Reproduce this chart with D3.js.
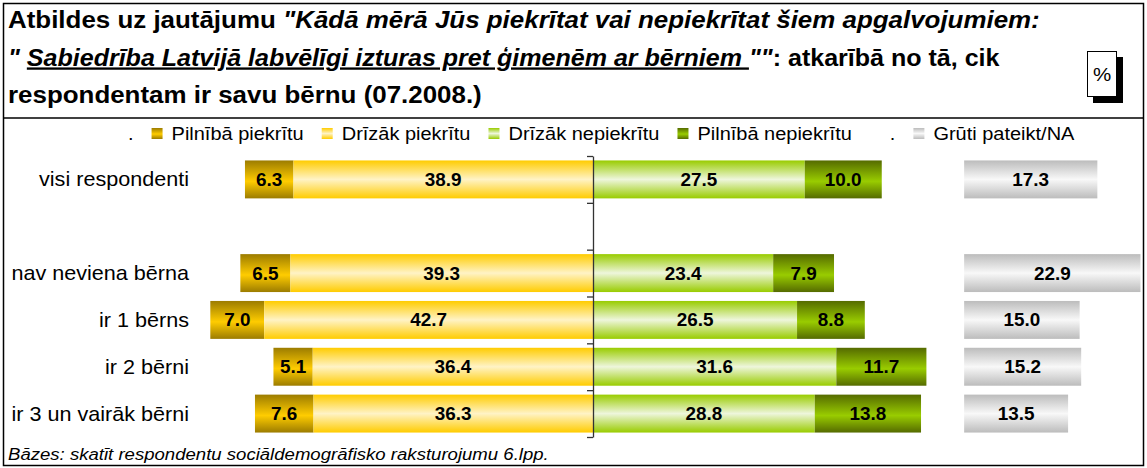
<!DOCTYPE html>
<html>
<head>
<meta charset="utf-8">
<script src="https://cdn.jsdelivr.net/npm/d3@7"></script>
<style>
body { margin: 0; background: #fff; }
svg { display: block; font-family: Arial, "Liberation Sans", sans-serif; }
text { white-space: pre; }
</style>
</head>
<body>
<div id="chart"></div>
<script>
// data
const categories = ["visi respondenti", "nav neviena bērna", "ir 1 bērns", "ir 2 bērni", "ir 3 un vairāk bērni"];
const fullyAgree = [6.3, 6.5, 7.0, 5.1, 7.6];
const ratherAgree = [38.9, 39.3, 42.7, 36.4, 36.3];
const ratherDisagree = [27.5, 23.4, 26.5, 31.6, 28.8];
const fullyDisagree = [10.0, 7.9, 8.8, 11.7, 13.8];
const hardToSay = [17.3, 22.9, 15.0, 15.2, 13.5];
const legendLabels = [".", "Pilnībā piekrītu", "Drīzāk piekrītu", "Drīzāk nepiekrītu", "Pilnībā nepiekrītu", ".", "Grūti pateikt/NA"];

const W = 1147, H = 468, SX = 1.08;
const grayStart = 48.2;

const svg = d3.select("#chart").append("svg")
    .attr("width", W)
    .attr("height", H);

// gradients
const defs = svg.append("defs");
const gradients = {
  fa: [[0, "#9c7c00"], [0.55, "#ffcc00"], [1, "#9c7c00"]],
  ra: [[0, "#ffcc00"], [0.5, "#fff3c6"], [1, "#ffcc00"]],
  rd: [[0, "#99cc00"], [0.5, "#eef6dc"], [1, "#99cc00"]],
  fd: [[0, "#556b00"], [0.55, "#99cc00"], [1, "#556b00"]],
  na: [[0, "#bcbcbc"], [0.5, "#f8f8f8"], [1, "#bcbcbc"]]
};
Object.entries(gradients).forEach(([id, stops]) => {
  const g = defs.append("linearGradient").attr("id", "g-" + id)
      .attr("x1", 0).attr("y1", 0).attr("x2", 0).attr("y2", 1);
  stops.forEach(s => g.append("stop").attr("offset", s[0]).attr("stop-color", s[1]));
});

function txt(parent, x, y, s) {
  return parent.append("text")
      .attr("transform", "translate(" + x + "," + y + ") scale(" + SX + ",1)")
      .text(s);
}

// frame
svg.append("rect")
    .attr("x", 3.5).attr("y", 3.5)
    .attr("width", 1140).attr("height", 462)
    .attr("fill", "none").attr("stroke", "#000").attr("stroke-width", 1.5);
svg.append("line")
    .attr("x1", 3.5).attr("x2", 1143.5).attr("y1", 118).attr("y2", 118)
    .attr("stroke", "#000").attr("stroke-width", 1.5);

// title
const title = svg.append("g").attr("font-weight", "bold").attr("fill", "#000");
const t1 = txt(title, 8, 28, "").attr("font-size", 24);
t1.append("tspan").text("Atbildes uz jautājumu ");
t1.append("tspan").attr("font-style", "italic").text("\"Kādā mērā Jūs piekrītat vai nepiekrītat šiem apgalvojumiem:");
const t2 = txt(title, 8, 65.5, "").attr("font-size", 23.2);
t2.append("tspan").attr("font-style", "italic").text("\" ");
t2.append("tspan").attr("font-style", "italic").attr("text-decoration", "underline")
    .text("Sabiedrība Latvijā labvēlīgi izturas pret ģimenēm ar bērniem ");
t2.append("tspan").attr("font-style", "italic").text("\"\"");
t2.append("tspan").text(": atkarībā no tā, cik");
txt(title, 8, 103, "respondentam ir savu bērnu (07.2008.)").attr("font-size", 24);

// % box
svg.append("rect").attr("x", 1093).attr("y", 57).attr("width", 30).attr("height", 46).attr("fill", "#000");
svg.append("rect").attr("x", 1087.5).attr("y", 51.5).attr("width", 29).attr("height", 45)
    .attr("fill", "#fff").attr("stroke", "#000").attr("stroke-width", 1);
txt(svg, 1102, 81, "%").attr("font-size", 19).attr("text-anchor", "middle");

// scales
const x = d3.scaleLinear().domain([-50, 50]).range([208, 978]);
const rows = [categories[0], "_gap", ...categories.slice(1)];
const y = d3.scaleBand().domain(rows).range([156, 437]).paddingInner(0.19).paddingOuter(0.095);

const series = [
  {key: "fa", values: fullyAgree, x0: i => -(fullyAgree[i] + ratherAgree[i]), x1: i => -ratherAgree[i]},
  {key: "ra", values: ratherAgree, x0: i => -ratherAgree[i], x1: i => 0},
  {key: "rd", values: ratherDisagree, x0: i => 0, x1: i => ratherDisagree[i]},
  {key: "fd", values: fullyDisagree, x0: i => ratherDisagree[i], x1: i => ratherDisagree[i] + fullyDisagree[i]},
  {key: "na", values: hardToSay, x0: i => grayStart, x1: i => grayStart + hardToSay[i]}
];

// bars
const barG = svg.append("g");
series.forEach(s => {
  const g = barG.append("g");
  g.selectAll("rect")
    .data(s.values)
    .enter().append("rect")
      .attr("x", (d, i) => x(s.x0(i)))
      .attr("y", (d, i) => y(categories[i]))
      .attr("width", (d, i) => x(s.x1(i)) - x(s.x0(i)))
      .attr("height", y.bandwidth())
      .attr("fill", "url(#g-" + s.key + ")");
  g.selectAll("text")
    .data(s.values)
    .enter().append("text")
      .attr("transform", (d, i) => "translate(" + x((s.x0(i) + s.x1(i)) / 2) + "," + (y(categories[i]) + y.bandwidth() / 2 + 6.5) + ") scale(" + SX + ",1)")
      .attr("text-anchor", "middle")
      .attr("font-size", 17.5)
      .attr("font-weight", "bold")
      .text(d => d.toFixed(1));
});

// axis through zero
const yb = d3.scaleLinear().domain([0, rows.length]).range([156, 437]);
const axis = svg.append("g")
    .attr("transform", "translate(" + x(0) + ",0)")
    .call(d3.axisLeft(yb).ticks(rows.length).tickSize(6).tickSizeOuter(0).tickFormat(""));
axis.select(".domain").attr("stroke", "#333").attr("stroke-width", 1.3);
axis.selectAll(".tick line").attr("stroke", "#333").attr("stroke-width", 1.3);

// category labels
const cat = svg.append("g").attr("font-size", 20).attr("text-anchor", "end");
categories.forEach(c => txt(cat, 189, y(c) + y.bandwidth() / 2 + 7, c));

// legend
const legendKeys = [null, "fa", "ra", "rd", "fd", null, "na"];
const leg = svg.append("g").attr("font-size", 18.5);
let lx = 108;
legendLabels.forEach((l, i) => {
  if (legendKeys[i]) {
    leg.append("rect").attr("x", lx).attr("y", 128).attr("width", 11).attr("height", 11)
        .attr("fill", "url(#g-" + legendKeys[i] + ")");
  }
  const t = txt(leg, lx + 20, 140, l);
  lx += 20 + t.node().getComputedTextLength() * SX + 18;
});

// footnote
txt(svg, 8, 460, "Bāzes: skatīt respondentu sociāldemogrāfisko raksturojumu 6.lpp.")
    .attr("font-size", 17.2).attr("font-style", "italic");
</script>
</body>
</html>
